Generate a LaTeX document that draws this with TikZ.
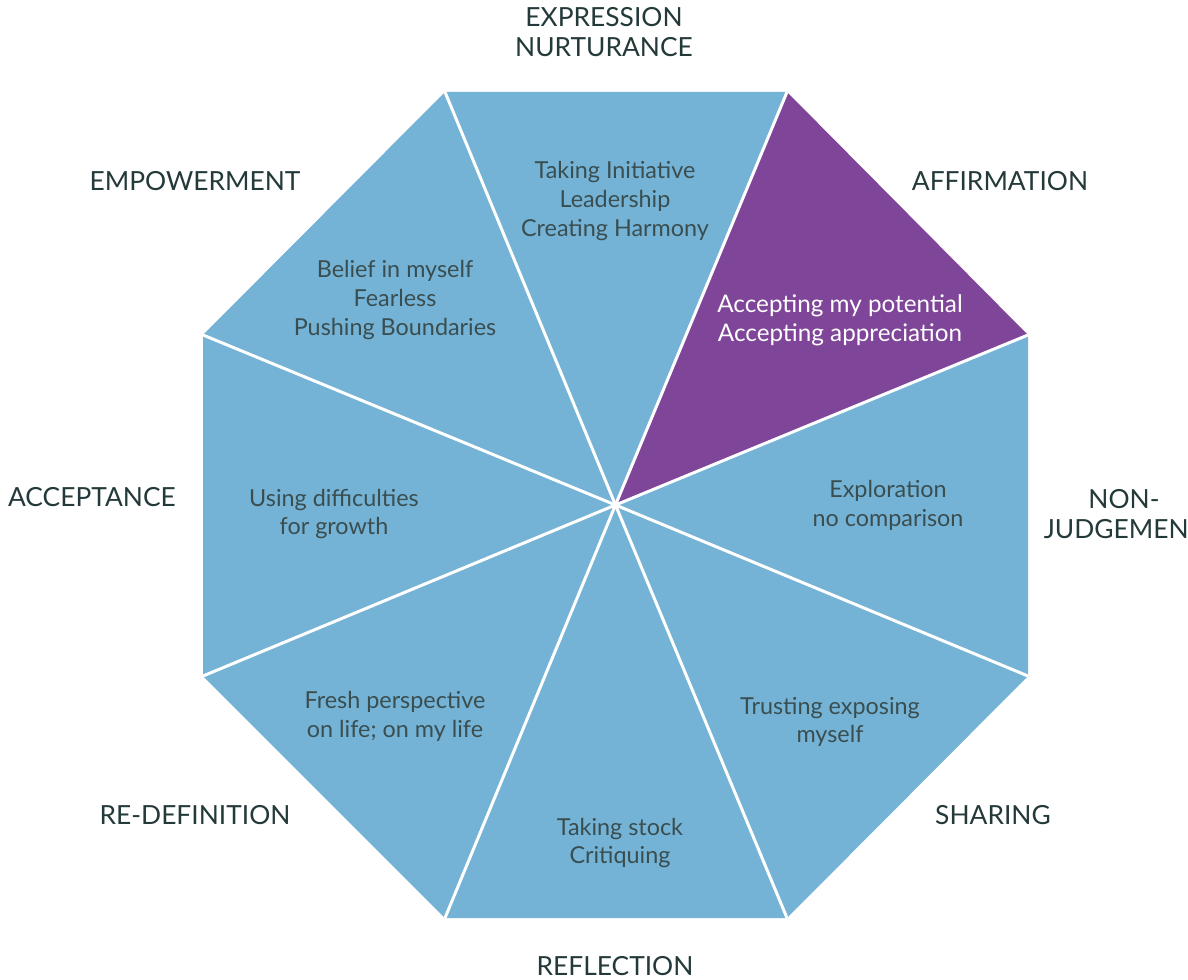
\documentclass[tikz,border=0pt]{standalone}
\usepackage{fontspec}
\setmainfont{Lato}
\definecolor{wedgeblue}{HTML}{74B3D6}
\definecolor{wedgepurple}{HTML}{7F4599}
\definecolor{labelink}{HTML}{24393A}
\definecolor{bodyink}{HTML}{3A4E50}

\begin{document}
\begin{tikzpicture}[x=0.02cm, y=-0.02cm,
	sector/.style={font=\fontsize{15}{17.2}\selectfont, text=labelink, align=center},
	theme/.style={font=\fontsize{13.3}{16.4}\selectfont, text=bodyink, align=center},
	spoke/.style={white, line width=1.7pt}]
	\useasboundingbox (0,0) rectangle (1188,980);
	\coordinate (hub) at (615.5,505);
	\coordinate (v1) at (445,92);
	\coordinate (v2) at (787,92);
	\coordinate (v3) at (1028,335);
	\coordinate (v4) at (1028,676);
	\coordinate (v5) at (787,918);
	\coordinate (v6) at (445,918);
	\coordinate (v7) at (203,676);
	\coordinate (v8) at (203,335);
	% wedges
	\foreach \a/\b in {1/2,3/4,4/5,5/6,6/7,7/8,8/1} {\fill[wedgeblue] (hub) -- (v\a) -- (v\b) -- cycle;}
	\fill[wedgepurple] (hub) -- (v2) -- (v3) -- cycle;
	\foreach \i in {1,...,8} {\draw[spoke] (hub) -- (v\i);}
	% outer labels
	\node[sector] (expression) at (604,32) {EXPRESSION\\NURTURANCE};
	\node[sector] (empowerment) at (195,181) {EMPOWERMENT};
	\node[sector] (affirmation) at (1000,181) {AFFIRMATION};
	\node[sector] (acceptance) at (92,497) {ACCEPTANCE};
	\node[sector] (nonjudge) at (1124,514) {NON-\\JUDGEMENT};
	\node[sector] (sharing) at (993,815) {SHARING};
	\node[sector] (redefinition) at (195,815) {RE-DEFINITION};
	\node[sector] (reflection) at (615,966) {REFLECTION};
	% inner texts
	\node[theme] (initiative) at (615,201) {Taking Initiative\\Leadership\\Creating Harmony};
	\node[theme] (belief) at (395,300) {Belief in myself\\Fearless\\Pushing Boundaries};
	\node[theme, font=\fontsize{13.8}{16.4}\selectfont, text=white] (potential) at (840,320) {Accepting my potential\\Accepting appreciation};
	\node[theme] (exploration) at (888,505) {Exploration\\no comparison};
	\node[theme] (trusting) at (830,722) {Trusting exposing\\myself};
	\node[theme] (stock) at (620,843) {Taking stock\\Critiquing};
	\node[theme] (fresh) at (395,716) {Fresh perspective\\on life; on my life};
	\node[theme] (difficulties) at (334,514) {Using difficulties\\for growth};
\end{tikzpicture}
\end{document}
